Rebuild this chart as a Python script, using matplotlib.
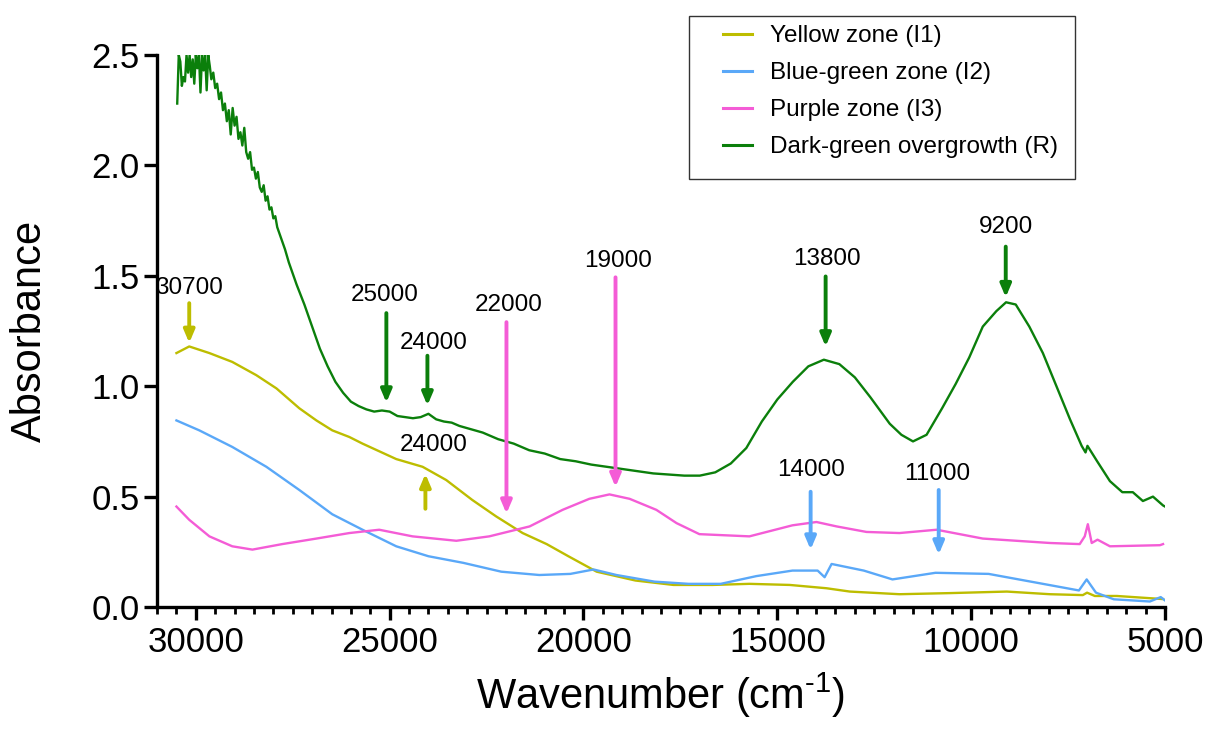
import matplotlib.pyplot as plt
from matplotlib.patches import Rectangle
from matplotlib.ticker import MultipleLocator

plt.rcParams['font.family'] = ['Liberation Sans', 'DejaVu Sans']
plt.rcParams['mathtext.fontset'] = 'custom'
plt.rcParams['mathtext.rm'] = 'Liberation Sans'

# spectra (wavenumber in cm-1, absorbance)
green_x = [30480, 30440, 30400, 30360, 30320, 30280, 30240, 30200, 30160, 30120,
           30080, 30040, 30000, 29960, 29920, 29880, 29840, 29800, 29760, 29720,
           29680, 29640, 29600, 29550, 29500, 29450, 29400, 29350, 29300, 29250,
           29200, 29150, 29100, 29050, 29000, 28950, 28900, 28850, 28800, 28750,
           28700, 28650, 28600, 28550, 28500, 28450, 28400, 28350, 28300, 28250,
           28200, 28150, 28100, 28050, 28000, 27950, 27900, 27800, 27700, 27600,
           27500, 27400, 27200, 27000, 26800, 26600, 26400, 26200, 26000, 25800,
           25600, 25400, 25200, 25000, 24800, 24600, 24400, 24200, 24000, 23800,
           23600, 23400, 23200, 23000, 22600, 22200, 21800, 21400, 21000, 20600,
           20200, 19800, 19400, 19000, 18600, 18200, 17800, 17400, 17000, 16600,
           16200, 15800, 15400, 15000, 14600, 14200, 13800, 13400, 13000, 12600,
           12100, 11800, 11500, 11150, 10750, 10400, 10050, 9700, 9350, 9100,
           8850, 8500, 8150, 7800, 7450, 7150, 7050, 7000, 6750, 6420,
           6100, 5830, 5570, 5310, 5050, 5000]
green_y = [2.28, 2.50, 2.47, 2.36, 2.40, 2.38, 2.50, 2.42, 2.50, 2.40,
           2.48, 2.37, 2.50, 2.44, 2.50, 2.33, 2.50, 2.43, 2.50, 2.34,
           2.50, 2.45, 2.39, 2.42, 2.35, 2.37, 2.30, 2.33, 2.25, 2.28,
           2.20, 2.25, 2.14, 2.26, 2.18, 2.22, 2.12, 2.15, 2.09, 2.17,
           2.06, 2.03, 2.06, 1.98, 1.99, 1.94, 1.97, 1.90, 1.88, 1.91,
           1.84, 1.86, 1.80, 1.81, 1.76, 1.77, 1.72, 1.67, 1.62, 1.56,
           1.51, 1.46, 1.37, 1.27, 1.17, 1.09, 1.02, 0.97, 0.93, 0.91,
           0.895, 0.885, 0.89, 0.885, 0.865, 0.86, 0.855, 0.86, 0.875, 0.85,
           0.84, 0.835, 0.82, 0.81, 0.79, 0.76, 0.74, 0.71, 0.695, 0.67,
           0.66, 0.645, 0.635, 0.625, 0.615, 0.605, 0.60, 0.595, 0.595, 0.61,
           0.65, 0.72, 0.84, 0.94, 1.02, 1.09, 1.12, 1.10, 1.04, 0.95,
           0.83, 0.78, 0.75, 0.78, 0.90, 1.01, 1.13, 1.27, 1.34, 1.38,
           1.37, 1.27, 1.15, 1.00, 0.85, 0.73, 0.70, 0.73, 0.66, 0.57,
           0.52, 0.52, 0.48, 0.50, 0.46, 0.455]

yellow_x = [30500, 30170, 29650, 29060, 28440, 27920, 27330, 26890, 26480, 26040,
            25700, 24830, 24150, 23540, 22870, 22250, 21570, 20950, 20390, 19660,
            18660, 17680, 16670, 15720, 14680, 13730, 13130, 11850, 10550, 9080,
            7970, 7120, 7010, 6810, 6240, 5050]
yellow_y = [1.15, 1.18, 1.15, 1.11, 1.05, 0.99, 0.90, 0.845, 0.80, 0.77,
            0.74, 0.67, 0.635, 0.575, 0.485, 0.41, 0.335, 0.285, 0.23, 0.16,
            0.12, 0.10, 0.10, 0.105, 0.10, 0.085, 0.07, 0.058, 0.063, 0.07,
            0.058, 0.054, 0.065, 0.05, 0.05, 0.036]

blue_x = [30500, 29910, 29060, 28180, 27330, 26480, 25700, 24830, 24000, 23100,
          22120, 21140, 20340, 19740, 19150, 18170, 17290, 16460, 15540, 14610,
          13960, 13780, 13600, 12770, 12030, 10920, 9550, 8150, 7220, 7020,
          6780, 6320, 5390, 5110, 5000]
blue_y = [0.845, 0.80, 0.725, 0.635, 0.53, 0.42, 0.35, 0.275, 0.23, 0.20,
          0.16, 0.145, 0.15, 0.17, 0.145, 0.115, 0.105, 0.105, 0.14, 0.165,
          0.165, 0.135, 0.195, 0.165, 0.125, 0.155, 0.15, 0.105, 0.075, 0.125,
          0.065, 0.035, 0.025, 0.045, 0.03]

pink_x = [30500, 30170, 29650, 29060, 28540, 27770, 26890, 26040, 25270, 24410,
          23280, 22430, 21390, 20540, 19850, 19330, 18810, 18120, 17600, 17010,
          15720, 14610, 13990, 13470, 12700, 11850, 10890, 9700, 7970, 7200,
          7070, 6990, 6890, 6740, 6420, 5130, 5050]
pink_y = [0.455, 0.395, 0.32, 0.275, 0.26, 0.285, 0.31, 0.335, 0.35, 0.32,
          0.30, 0.32, 0.365, 0.44, 0.49, 0.51, 0.49, 0.44, 0.38, 0.33,
          0.32, 0.37, 0.385, 0.365, 0.34, 0.335, 0.35, 0.31, 0.29, 0.285,
          0.32, 0.375, 0.29, 0.305, 0.275, 0.28, 0.285]

series_names = ['Yellow zone (I1)', 'Blue-green zone (I2)', 'Purple zone (I3)',
                'Dark-green overgrowth (R)']
c_yellow = '#BDBD00'
c_blue = '#5AA8F8'
c_pink = '#F45CD6'
c_green = '#0B7F0B'

# peak annotations: label, arrow x, tail y, head y, text x, text y, colour
peaks = [
    ('30700', 30170, 1.376, 1.196, 30170, 1.443, c_yellow),
    ('25000', 25085, 1.331, 0.926, 25136, 1.412, c_green),
    ('24000', 24026, 1.138, 0.913, 23872, 1.196, c_green),
    ('24000', 24078, 0.445, 0.603, 23872, 0.733, c_yellow),
    ('22000', 21987, 1.290, 0.423, 21936, 1.367, c_pink),
    ('19000', 19174, 1.493, 0.544, 19097, 1.565, c_pink),
    ('13800', 13754, 1.497, 1.180, 13728, 1.578, c_green),
    ('9200', 9108, 1.632, 1.403, 9108, 1.722, c_green),
    ('14000', 14141, 0.522, 0.260, 14141, 0.620, c_blue),
    ('11000', 10837, 0.530, 0.238, 10889, 0.603, c_blue),
]

fig = plt.figure(figsize=(12.1, 7.31), dpi=100)
ax = fig.add_axes([0.1298, 0.1696, 0.833, 0.7552])

lw = 1.7
ax.plot(yellow_x, yellow_y, color=c_yellow, lw=lw, label=series_names[0])
ax.plot(blue_x, blue_y, color=c_blue, lw=lw, label=series_names[1])
ax.plot(pink_x, pink_y, color=c_pink, lw=lw, label=series_names[2])
ax.plot(green_x, green_y, color=c_green, lw=lw, label=series_names[3])

for lab, xa, yt, yh, xt, ytx, col in peaks:
    ax.annotate('', xy=(xa, yh), xytext=(xa, yt),
                arrowprops=dict(arrowstyle='-|>,head_width=0.32,head_length=0.75',
                                mutation_scale=10, lw=2.8, color=col,
                                shrinkA=0, shrinkB=0))
    ax.text(xt, ytx, lab, fontsize=17.5, ha='center', va='center')

ax.set_xlim(31000, 5000)
ax.set_ylim(0, 2.5)
ax.xaxis.set_major_locator(MultipleLocator(5000))
ax.xaxis.set_minor_locator(MultipleLocator(500))
ax.yaxis.set_major_locator(MultipleLocator(0.5))
ax.yaxis.set_major_formatter(plt.FormatStrFormatter('%.1f'))

for s in ['top', 'right']:
    ax.spines[s].set_visible(False)
for s in ['left', 'bottom']:
    ax.spines[s].set_linewidth(2.4)
ax.tick_params(axis='both', which='major', length=9.4, width=2.4,
               labelsize=25, direction='out')
ax.tick_params(axis='x', which='minor', length=5, width=2.0)
ax.tick_params(axis='x', which='major', pad=4)
ax.tick_params(axis='y', which='major', pad=3)

ax.set_xlabel(r'Wavenumber (cm$^{\text{-1}}$)', fontsize=30)
ax.set_ylabel('Absorbance', fontsize=30)
ax.xaxis.set_label_coords(0.5, -0.115)
ax.yaxis.set_label_coords(-0.106, 0.5)

# legend box drawn by hand, legend entries without frame
fig.patches.append(Rectangle((689 / 1210, 1 - 179 / 731), 386 / 1210, 163 / 731,
                             transform=fig.transFigure, fill=False,
                             edgecolor='#333333', lw=1.0))
leg = ax.legend(loc='upper left', bbox_to_anchor=(723 / 1210, 1 - 25 / 731),
                bbox_transform=fig.transFigure, frameon=False, fontsize=17.5,
                borderpad=0, borderaxespad=0, handlelength=1.2,
                handletextpad=0.74, labelspacing=0.62)
for line in leg.get_lines():
    line.set_linewidth(2.2)

fig.savefig('out.png', dpi=100)
